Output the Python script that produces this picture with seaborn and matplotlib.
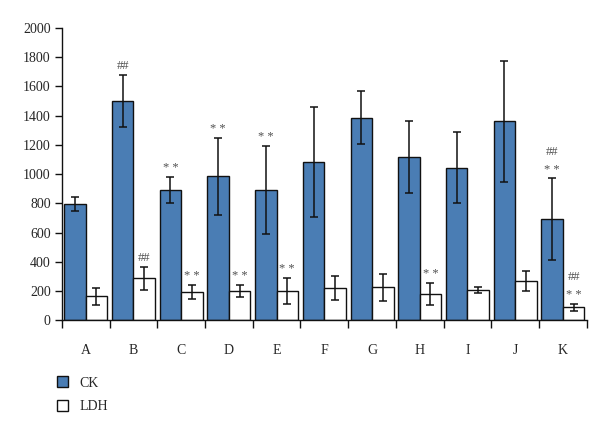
import numpy as np
import pandas as pd
import matplotlib.pyplot as plt
import seaborn as sns

# values
groups = ['A', 'B', 'C', 'D', 'E', 'F', 'G', 'H', 'I', 'J', 'K']
ck_mean = [795, 1500, 893, 985, 893, 1083, 1385, 1115, 1045, 1360, 690]
ck_err = [45, 180, 90, 263, 300, 377, 180, 245, 242, 415, 280]
ldh_mean = [165, 288, 195, 200, 200, 222, 225, 182, 208, 272, 90]
ldh_err = [58, 77, 48, 40, 90, 83, 90, 75, 23, 68, 25]
ck_marks = ['', '##', '* *', '* *', '* *', '', '', '', '', '', '* *\n##']
ldh_marks = ['', '##', '* *', '* *', '* *', '', '', '* *', '', '', '* *\n##']

df = pd.DataFrame({
    'group': groups * 2,
    'value': ck_mean + ldh_mean,
    'kind': ['CK'] * len(groups) + ['LDH'] * len(groups),
})

sns.set_style('white')
plt.rcParams['font.family'] = ['Liberation Serif', 'DejaVu Serif']

fig = plt.figure(figsize=(6, 4.21), dpi=100)
ax = fig.add_axes([0.103, 0.239, 0.875, 0.695])

sns.barplot(data=df, x='group', y='value', hue='kind', order=groups,
            hue_order=['CK', 'LDH'], palette=['#4a7db4', 'white'],
            width=0.9, errorbar=None, legend=False, ax=ax,
            edgecolor='#111111', linewidth=1.0, saturation=1)

for cont, errs, marks in [(ax.containers[0], ck_err, ck_marks),
                          (ax.containers[1], ldh_err, ldh_marks)]:
    xs = [p.get_x() + p.get_width() / 2 for p in cont]
    ys = [p.get_height() for p in cont]
    ax.errorbar(xs, ys, yerr=errs, fmt='none', ecolor='#111111',
                elinewidth=1.1, capsize=3, capthick=1.1)
    for x, y, e, m in zip(xs, ys, errs, marks):
        if not m:
            continue
        for i, t in enumerate(m.split('\n')):
            ax.annotate(t, (x, y + e), xytext=(0, 2 + i * 13),
                        textcoords='offset points', ha='center', va='bottom',
                        fontsize=9, color='#505050')

ax.set_xlim(-0.5, len(groups) - 0.5)
ax.set_ylim(0, 2000)
ax.set_yticks(np.arange(0, 2001, 200))
ax.set_xticks(np.arange(-0.5, len(groups)), minor=True)
ax.tick_params(axis='x', which='major', length=0, pad=17, labelsize=10)
ax.tick_params(axis='x', which='minor', length=6, width=1, color='#111111',
               direction='out', bottom=True)
ax.tick_params(axis='y', length=5, width=1, color='#111111', direction='out',
               left=True, labelsize=10, pad=3)
ax.set_xlabel('')
ax.set_ylabel('')
for s in ['top', 'right']:
    ax.spines[s].set_visible(False)
for s in ['left', 'bottom']:
    ax.spines[s].set_color('#111111')
    ax.spines[s].set_linewidth(1)

handles = [plt.Rectangle((0, 0), 1, 1, facecolor='#4a7db4', edgecolor='#111111'),
           plt.Rectangle((0, 0), 1, 1, facecolor='white', edgecolor='#111111')]
fig.legend(handles, ['CK', 'LDH'], loc='upper left',
           bbox_to_anchor=(0.095, 0.106), frameon=False, fontsize=10,
           handlelength=0.8, handleheight=0.8, handletextpad=0.8,
           labelspacing=0.75, borderaxespad=0, borderpad=0)

fig.savefig('out.png', dpi=100)
